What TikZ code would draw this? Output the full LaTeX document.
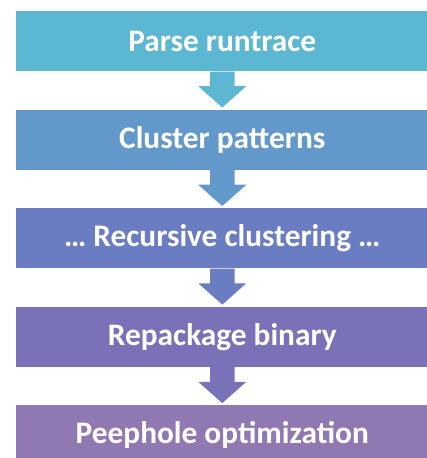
\documentclass[tikz,border=0pt]{standalone}
\usepackage{fontspec}
\setmainfont{Carlito}
\usetikzlibrary{positioning,calc}

\definecolor{stepA}{HTML}{5CB8D2}
\definecolor{stepB}{HTML}{6399CA}
\definecolor{stepC}{HTML}{6A7CC2}
\definecolor{stepD}{HTML}{7A72B8}
\definecolor{stepE}{HTML}{9079B2}

\tikzset{
  stage/.style={minimum width=309pt,minimum height=45pt,inner sep=0pt,
    text=white,font=\fontsize{23.5}{26}\selectfont\bfseries},
}

\begin{document}
\begin{tikzpicture}
  \useasboundingbox (0,0) rectangle (320.25pt,-343.5pt);
  \node[stage,fill=stepA,anchor=north west] (parse) at (12pt,-8.25pt) {Parse runtrace};
  \node[stage,fill=stepB,below=28.5pt of parse] (cluster) {Cluster patterns};
  \node[stage,fill=stepC,below=28.5pt of cluster] (recur) {\dots\ Recursive clustering \dots};
  \node[stage,fill=stepD,below=28.5pt of recur] (repack) {Repackage binary};
  \node[stage,fill=stepE,below=28.5pt of repack] (peep) {Peephole optimization};
  % fat arrows between the stages
  \foreach \a/\b/\c in {parse/cluster/stepA,cluster/recur/stepB,recur/repack/stepC,repack/peep/stepD}
    \fill[\c] ($(\a.south)+(-9.2pt,0)$) -- ++(0,-11pt) -- ++(-8.8pt,0)
      -- ($(\b.north)+(0,1.5pt)$) -- ($(\a.south)+(18pt,-11pt)$) -- ++(-8.8pt,0)
      -- ($(\a.south)+(9.2pt,0)$) -- cycle;
\end{tikzpicture}
\end{document}
